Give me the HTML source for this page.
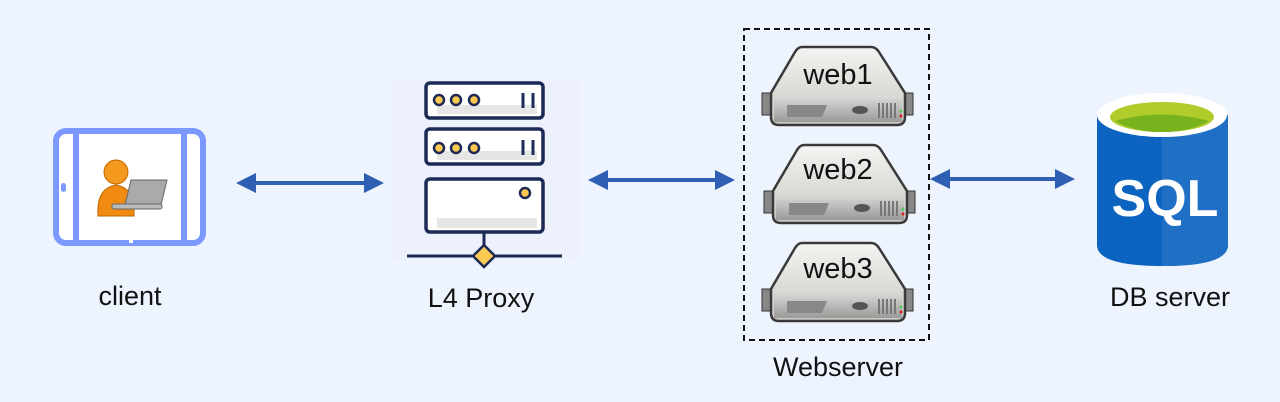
<!DOCTYPE html>
<html><head><style>body{margin:0;background:#eef4fe}svg{display:block}text{font-family:"Liberation Sans",sans-serif}</style></head><body>
<svg width="1280" height="402" viewBox="0 0 1280 402">
<defs>
<linearGradient id="sg" x1="0" y1="0" x2="0" y2="1"><stop offset="0" stop-color="#f4f4f2"/><stop offset="1" stop-color="#c8c8c4"/></linearGradient>
<linearGradient id="sb" x1="0" y1="0" x2="0" y2="1"><stop offset="0" stop-color="#d8d8d6"/><stop offset="1" stop-color="#9a9a98"/></linearGradient>
<g id="srv">
<rect x="0" y="48" width="10" height="22" fill="#888" stroke="#333"/>
<rect x="141" y="48" width="10" height="22" fill="#888" stroke="#333"/>
<path d="M40 2 H109 Q114 2 117 7 L143 48 V72 Q143 80 135 80 H17 Q9 80 9 72 V48 L33 7 Q36 2 40 2Z" fill="url(#sg)" stroke="#3a3a3a" stroke-width="2.5"/>
<rect x="12" y="52" width="128" height="25" fill="url(#sb)"/>
<path d="M25 60 L65 60 L60 72 L25 72Z" fill="#888"/>
<ellipse cx="98" cy="65" rx="8" ry="4" fill="#555"/>
<g stroke="#777" stroke-width="2"><line x1="117" y1="58" x2="117" y2="73"/><line x1="121" y1="58" x2="121" y2="73"/><line x1="125" y1="58" x2="125" y2="73"/><line x1="129" y1="58" x2="129" y2="73"/><line x1="133" y1="58" x2="133" y2="73"/></g>
<circle cx="139" cy="66" r="1.5" fill="#5c5"/><circle cx="139" cy="71" r="1.5" fill="#d22"/>
</g>
<marker id="ah" viewBox="0 0 10 10" refX="8" refY="5" markerWidth="5" markerHeight="5" orient="auto-start-reverse"><path d="M0 0 L10 5 L0 10Z" fill="#2f5fb3"/></marker>
</defs>
<!-- client -->
<rect x="56" y="131" width="147" height="112" rx="10" fill="#fff" stroke="#7b99ff" stroke-width="6"/>
<line x1="76" y1="131" x2="76" y2="243" stroke="#7b99ff" stroke-width="6"/>
<line x1="184" y1="131" x2="184" y2="243" stroke="#7b99ff" stroke-width="6"/>
<rect x="61" y="183" width="5" height="9" rx="2.5" fill="#7b99ff"/>
<line x1="129" y1="240" x2="133" y2="240" stroke="#fff" stroke-width="6"/>
<circle cx="116" cy="172" r="12" fill="#f59a1c" stroke="#c06a00"/>
<path d="M98 216 Q96 188 116 185 Q134 188 134 210 L134 216Z" fill="#f08a10" stroke="#c06a00"/>
<path d="M131 180 L167 180 L161 205 L125 205Z" fill="#aaa" stroke="#666"/>
<rect x="112" y="204" width="50" height="5" rx="2" fill="#bbb" stroke="#666"/>
<text x="130" y="305" font-size="27" text-anchor="middle" fill="#111">client</text>
<!-- arrows -->
<g stroke="#2f5fb3" stroke-width="4" marker-start="url(#ah)" marker-end="url(#ah)">
<line x1="240" y1="183" x2="380" y2="183"/>
<line x1="592" y1="180" x2="731" y2="180"/>
<line x1="934" y1="179" x2="1071" y2="179"/>
</g>
<!-- proxy -->
<rect x="390" y="80" width="190" height="180" fill="#ecf1fb"/>
<g stroke="#1c2a55" stroke-width="3.5" fill="#fff">
<rect x="426" y="83" width="117" height="35" rx="4"/>
<rect x="426" y="129" width="117" height="35" rx="4"/>
<rect x="426" y="179" width="117" height="53" rx="4"/>
</g>
<g fill="#e6e6e6"><rect x="437" y="105" width="100" height="9"/><rect x="437" y="151" width="100" height="9"/><rect x="437" y="218" width="100" height="10"/></g>
<g fill="#fcc953" stroke="#1c2a55" stroke-width="2.5">
<circle cx="439" cy="100" r="5"/><circle cx="456" cy="100" r="5"/><circle cx="474" cy="100" r="5"/>
<circle cx="439" cy="148" r="5"/><circle cx="456" cy="148" r="5"/><circle cx="474" cy="148" r="5"/>
<circle cx="525" cy="193" r="5"/>
</g>
<g stroke="#1c2a55" stroke-width="3"><line x1="523" y1="93" x2="523" y2="108"/><line x1="533" y1="93" x2="533" y2="108"/><line x1="523" y1="140" x2="523" y2="155"/><line x1="533" y1="140" x2="533" y2="155"/>
<line x1="407" y1="256" x2="562" y2="256"/><line x1="484" y1="232" x2="484" y2="256"/></g>
<path d="M484 245 L495 256 L484 267 L473 256Z" fill="#fcc953" stroke="#1c2a55" stroke-width="2.5"/>
<text x="481" y="307" font-size="27" text-anchor="middle" fill="#111">L4 Proxy</text>
<!-- webservers -->
<rect x="744" y="29" width="185" height="311" fill="none" stroke="#111" stroke-width="2" stroke-dasharray="6,4"/>
<use href="#srv" x="762" y="45"/><use href="#srv" x="764" y="143"/><use href="#srv" x="762" y="241"/>
<g font-size="29" fill="#111" text-anchor="middle"><text x="838" y="84">web1</text><text x="838" y="179">web2</text><text x="838" y="278">web3</text></g>
<text x="838" y="376" font-size="27" text-anchor="middle" fill="#111">Webserver</text>
<!-- SQL -->
<path d="M1097 115 V245 Q1097 266 1162 266 Q1228 266 1228 245 V115Z" fill="#0c64c0"/>
<path d="M1162 115 V266 Q1228 266 1228 245 V115Z" fill="#1f6fc4"/>
<ellipse cx="1162" cy="115" rx="65" ry="22" fill="#fff"/>
<ellipse cx="1162" cy="117" rx="52" ry="15" fill="#b0cc2a"/>
<path d="M1115 121 Q1162 108 1209 121 Q1190 132 1162 132 Q1134 132 1115 121Z" fill="#78b21c"/>
<text x="1165" y="216" font-size="52" font-weight="bold" text-anchor="middle" fill="#fff">SQL</text>
<text x="1170" y="306" font-size="27" text-anchor="middle" fill="#111">DB server</text>
</svg>
</body></html>
